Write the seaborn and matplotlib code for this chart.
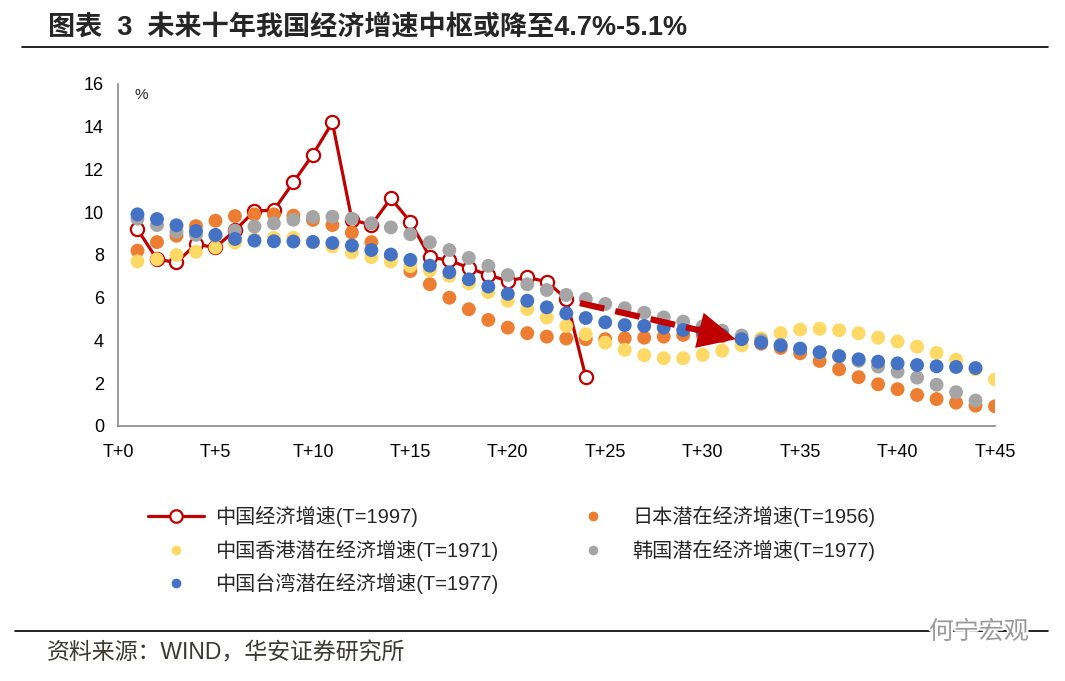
import numpy as np
import pandas as pd
import matplotlib.pyplot as plt
import seaborn as sns
from matplotlib.lines import Line2D
import matplotlib.patheffects as pe

# data (T+1 ... )
china = [9.2, 7.8, 7.65, 8.5, 8.35, 9.15, 10.05, 10.1, 11.4, 12.7, 14.2, 9.65,
         9.4, 10.65, 9.55, 7.9, 7.75, 7.4, 7.05, 6.8, 6.95, 6.75, 5.95, 2.3]
japan = [8.2, 8.6, 8.9, 9.35, 9.6, 9.82, 9.9, 9.9, 9.84, 9.64, 9.4, 9.05, 8.6,
         7.95, 7.25, 6.63, 6.0, 5.46, 4.96, 4.6, 4.34, 4.18, 4.09, 4.06, 4.06,
         4.1, 4.13, 4.18, 4.26, 4.26, 4.2, 4.05, 3.85, 3.65, 3.4, 3.04, 2.65,
         2.28, 1.95, 1.72, 1.45, 1.26, 1.09, 0.95, 0.92]
hongkong = [7.7, 7.8, 8.0, 8.15, 8.35, 8.58, 8.72, 8.8, 8.8, 8.6, 8.4, 8.12,
            7.9, 7.7, 7.48, 7.28, 7.02, 6.67, 6.26, 5.86, 5.47, 5.08, 4.68,
            4.29, 3.9, 3.56, 3.31, 3.17, 3.17, 3.33, 3.52, 3.77, 4.1, 4.34,
            4.51, 4.55, 4.48, 4.34, 4.13, 3.95, 3.71, 3.42, 3.1, 2.65, 2.17]
korea = [9.7, 9.4, 9.08, 8.94, 8.9, 9.14, 9.33, 9.48, 9.65, 9.78, 9.79, 9.7,
         9.48, 9.29, 8.97, 8.59, 8.23, 7.86, 7.49, 7.06, 6.63, 6.36, 6.13,
         5.94, 5.71, 5.51, 5.3, 5.08, 4.88, 4.66, 4.46, 4.23, 4.0, 3.8, 3.6,
         3.42, 3.25, 3.05, 2.78, 2.54, 2.26, 1.93, 1.58, 1.19]
taiwan = [9.9, 9.68, 9.39, 9.12, 8.94, 8.75, 8.67, 8.64, 8.63, 8.61, 8.56,
          8.44, 8.23, 8.02, 7.77, 7.5, 7.19, 6.86, 6.52, 6.18, 5.86, 5.55,
          5.27, 5.05, 4.85, 4.72, 4.68, 4.6, 4.49, 4.41, 4.25, 4.06, 3.9,
          3.76, 3.62, 3.45, 3.27, 3.12, 3.01, 2.93, 2.85, 2.79, 2.76, 2.71]

labels = {
    'china': '中国经济增速(T=1997)',
    'japan': '日本潜在经济增速(T=1956)',
    'hk': '中国香港潜在经济增速(T=1971)',
    'korea': '韩国潜在经济增速(T=1977)',
    'taiwan': '中国台湾潜在经济增速(T=1977)',
}
colors = {'china': '#C00000', 'japan': '#ED7D31', 'hk': '#FFD966',
          'korea': '#A5A5A5', 'taiwan': '#4472C4'}
xticks = list(range(0, 46, 5))
xticklabels = ['T+%d' % t for t in xticks]

# dashed trend arrow (start, head base, tip)
arrow_start = (23.7, 5.75)
arrow_mid = (29.9, 4.46)
arrow_tip = (31.7, 4.06)

sns.set_theme(style='white')
plt.rcParams['font.family'] = ['Liberation Sans', 'Noto Sans CJK SC']
plt.rcParams['axes.unicode_minus'] = False

frames = []
for key, vals in [('japan', japan), ('hk', hongkong), ('korea', korea), ('taiwan', taiwan)]:
    frames.append(pd.DataFrame({'t': np.arange(1, len(vals) + 1), 'v': vals, 'series': key}))
dots = pd.concat(frames, ignore_index=True)
cn = pd.DataFrame({'t': np.arange(1, len(china) + 1), 'v': china})

fig = plt.figure(figsize=(10.65, 6.81), dpi=100)
ax = fig.add_axes([0.1108, 0.3745, 0.8235, 0.5022])

sns.lineplot(data=cn, x='t', y='v', ax=ax, color=colors['china'], linewidth=2.3,
             marker='o', markersize=9.5, markerfacecolor='white',
             markeredgecolor=colors['china'], markeredgewidth=1.6, zorder=2)
sns.scatterplot(data=dots, x='t', y='v', hue='series', palette=colors, s=100,
                edgecolor='none', linewidth=0, legend=False, ax=ax, zorder=3)

# arrow
ax.plot([arrow_start[0], arrow_mid[0]], [arrow_start[1], arrow_mid[1]],
        color=colors['china'], linewidth=4.5, dashes=(4, 1.8), zorder=4,
        solid_capstyle='butt', dash_capstyle='butt')
ax.annotate('', xy=arrow_tip, xytext=arrow_mid,
            arrowprops=dict(arrowstyle='-|>,head_length=1.35,head_width=0.65',
                            mutation_scale=20, color=colors['china'], lw=0,
                            shrinkA=0, shrinkB=0), zorder=5)

ax.set_xlim(0, 45)
ax.set_ylim(0, 16)
ax.set_xticks(xticks)
ax.set_xticklabels(xticklabels)
ax.set_yticks(range(0, 17, 2))
ax.set_xlabel('')
ax.set_ylabel('')
sns.despine(ax=ax)
for s in ['left', 'bottom']:
    ax.spines[s].set_color('#898989')
    ax.spines[s].set_linewidth(1.2)
ax.tick_params(axis='both', which='major', length=5, width=1.2, color='#898989',
               labelsize=13, labelcolor='black', direction='out')
ax.tick_params(axis='y', pad=5)
ax.tick_params(axis='x', pad=8)
ax.text(1.2, 15.5, '%', fontsize=11, ha='center', va='center')

# legend
h = {
    'china': Line2D([], [], color=colors['china'], linewidth=2.3, marker='o', markersize=9,
                    markerfacecolor='white', markeredgecolor=colors['china'], markeredgewidth=1.6),
}
for k in ['japan', 'hk', 'korea', 'taiwan']:
    h[k] = Line2D([], [], linestyle='none', marker='o', markersize=7,
                  markerfacecolor=colors[k], markeredgecolor='none')
order = ['china', 'hk', 'taiwan', 'japan', 'korea']
fig.legend([h[k] for k in order], [labels[k] for k in order], ncol=2,
           loc='upper left', bbox_to_anchor=(0.139, 0.257), frameon=False,
           fontsize=14.5, handlelength=2.8, handletextpad=0.55, labelspacing=0.62,
           columnspacing=3.3, borderaxespad=0, borderpad=0)

# title, rules, source
fig.text(0.045, 0.96, '图表  3  未来十年我国经济增速中枢或降至4.7%-5.1%',
         fontsize=19.5, fontweight='bold', ha='left', va='center',
         family=['Liberation Sans', 'Noto Sans CJK SC'])
fig.add_artist(Line2D([0.021, 0.984], [0.931, 0.931], color='black', linewidth=1.2))
fig.add_artist(Line2D([0.014, 0.984], [0.073, 0.073], color='black', linewidth=1.2))
fig.text(0.044, 0.041, '资料来源：WIND，华安证券研究所', fontsize=16.5, ha='left',
         va='center', color='#3a3a30')
fig.text(0.966, 0.072, '何宁宏观', fontsize=18, ha='right', va='center', color='#9a9a9a',
         path_effects=[pe.withStroke(linewidth=3, foreground='white')])

fig.savefig('out.png', dpi=100)
